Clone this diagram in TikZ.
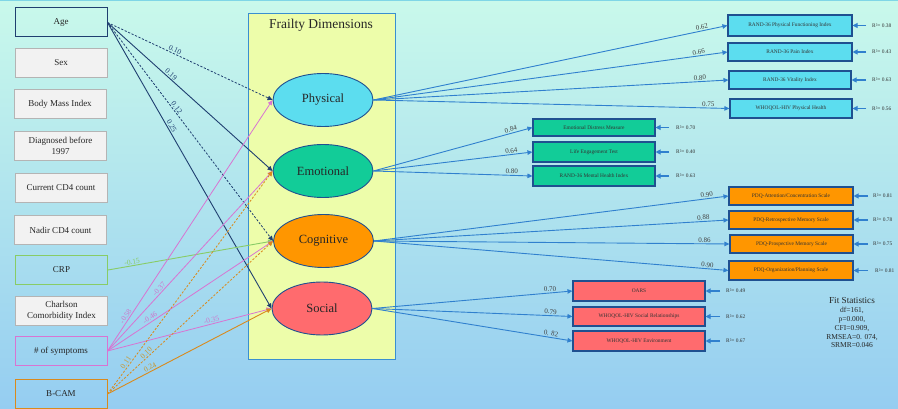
\documentclass[tikz,border=0pt]{standalone}
\usepackage{fontspec}
\setmainfont{Liberation Serif}
\usetikzlibrary{shapes.geometric,arrows.meta}
\definecolor{bgtop}{HTML}{C9F9EB}
\definecolor{bgbot}{HTML}{95CDF1}
\definecolor{topline}{HTML}{7FD6E6}
\definecolor{navy}{HTML}{1F3F70}
\definecolor{loadblue}{HTML}{3080CE}
\definecolor{pinkc}{HTML}{D874D2}
\definecolor{orangec}{HTML}{D98A1C}
\definecolor{greenc}{HTML}{88CC66}
\definecolor{frfill}{HTML}{EDFDAA}
\definecolor{frborder}{HTML}{3A8FD0}
\definecolor{ellborder}{HTML}{1F5090}
\definecolor{physc}{HTML}{5CDDEF}
\definecolor{emoc}{HTML}{12CC98}
\definecolor{cogc}{HTML}{FF9600}
\definecolor{socc}{HTML}{FF6B6E}
\definecolor{boxgray}{HTML}{B4B4B4}
\definecolor{boxfill}{HTML}{F2F2F2}
\definecolor{labgray}{HTML}{404040}
\definecolor{pinklab}{HTML}{CC77CC}
\definecolor{orangelab}{HTML}{C8962E}
\begin{document}
\begin{tikzpicture}[x=1pt,y=-1pt,
  predbox/.style={draw, line width=1pt, minimum width=92pt, minimum height=29pt, align=center, font=\fontsize{9}{10.5}\selectfont, inner sep=1pt, text=black!85},
  graybox/.style={predbox, draw=boxgray, fill=boxfill},
  latent/.style={ellipse, draw=ellborder, line width=0.9pt, minimum width=100pt, minimum height=53pt, inner sep=0pt, font=\fontsize{12.5}{14}\selectfont, text=black!85},
  ind/.style={draw=ellborder, line width=1.1pt, minimum width=124pt, minimum height=19pt, inner sep=0pt, font=\fontsize{5.4}{6}\selectfont, text=black!80},
  rsq/.style={font=\fontsize{5.4}{6}\selectfont, anchor=west, inner sep=0pt, text=black!80},
  load/.style={draw=loadblue, line width=0.9pt, -{Triangle[length=5pt,width=4.5pt]}},
  rarrow/.style={draw=loadblue, line width=1.1pt, -{Triangle[length=5pt,width=5pt]}},
  ltext/.style={font=\fontsize{7}{8}\selectfont, text=labgray, sloped, above, inner sep=1pt},
  ptext/.style={font=\fontsize{7.5}{8}\selectfont, sloped, above, inner sep=1pt},
  dsh/.style={dash pattern=on 2.2pt off 1.6pt}
]
\shade[top color=bgtop, bottom color=bgbot] (0,0) rectangle (898,409);
\useasboundingbox (0,0) rectangle (898,409);
\draw[topline, line width=1pt] (0,0.5) -- (898,0.5);

% frame
\node[draw=frborder, fill=frfill, line width=1pt, minimum width=147pt, minimum height=346pt, anchor=north west, inner sep=0pt] (frame) at (248,13) {};
\node[font=\fontsize{13.5}{15}\selectfont, text=black!85] (title) at (321,25) {Frailty Dimensions};

% predictors
\node[predbox, draw=navy] (age) at (61,22.5) {Age};
\node[graybox] (sex) at (61,63) {Sex};
\node[graybox] (bmi) at (60,104.5) {Body Mass Index};
\node[graybox] (diag) at (60.5,146) {Diagnosed before\\1997};
\node[graybox] (cur) at (61,188) {Current CD4 count};
\node[graybox] (nad) at (60.5,230) {Nadir CD4 count};
\node[predbox, draw=greenc] (crp) at (61.5,270) {CRP};
\node[graybox] (cha) at (61.5,311) {Charlson\\Comorbidity Index};
\node[predbox, draw=pinkc] (sym) at (61,351) {\# of symptoms};
\node[predbox, draw=orangec] (bcam) at (61,394) {B-CAM};

% latent
\node[latent, fill=physc] (phys) at (323,100) {Physical};
\node[latent, fill=emoc] (emo) at (323,171) {Emotional};
\node[latent, fill=cogc] (cog) at (323.5,241) {Cognitive};
\node[latent, fill=socc] (soc) at (322,308.5) {Social};

% predictor paths
\draw[navy, line width=0.8pt, dsh, -{Triangle[length=5pt,width=4.5pt]}] (age.east) -- node[ptext, text=navy, pos=0.4] {0.10} (phys.west);
\draw[navy, line width=0.9pt, -{Triangle[length=5pt,width=4.5pt]}] (age.east) -- node[ptext, text=navy, pos=0.37] {0.19} (emo.west);
\draw[navy, line width=0.8pt, dsh, -{Triangle[length=5pt,width=4.5pt]}] (age.east) -- node[ptext, text=navy, pos=0.4] {0.12} (cog.west);
\draw[navy, line width=0.9pt, -{Triangle[length=5pt,width=4.5pt]}] (age.east) -- node[ptext, text=navy, pos=0.37] {0.25} (soc.west);

\draw[greenc, line width=0.9pt, -{Triangle[length=5pt,width=4.5pt]}] (crp.east) -- node[ptext, text=greenc, pos=0.15] {-0.15} (cog.west);

\draw[pinkc, line width=0.8pt, -{Triangle[length=5pt,width=4.5pt]}] (sym.east) -- node[ptext, text=pinklab, pos=0.13] {-0.58} (phys.west);
\draw[pinkc, line width=0.8pt, -{Triangle[length=5pt,width=4.5pt]}] (sym.east) -- node[ptext, text=pinklab, pos=0.33] {-0.37} (emo.west);
\draw[pinkc, line width=0.8pt, -{Triangle[length=5pt,width=4.5pt]}] (sym.east) -- node[ptext, text=pinklab, pos=0.27] {-0.46} (cog.west);
\draw[pinkc, line width=0.8pt, -{Triangle[length=5pt,width=4.5pt]}] (sym.east) -- node[ptext, text=pinklab, pos=0.64] {-0.35} (soc.west);

\draw[orangec, line width=0.8pt, dsh, -{Triangle[length=5pt,width=4.5pt]}] (bcam.east) -- node[ptext, text=orangelab, pos=0.13] {0.11} (emo.west);
\draw[orangec, line width=0.8pt, dsh, -{Triangle[length=5pt,width=4.5pt]}] (bcam.east) -- node[ptext, text=orangelab, pos=0.25] {0.10} (cog.west);
\draw[orangec, line width=0.9pt, -{Triangle[length=5pt,width=4.5pt]}] (bcam.east) -- node[ptext, text=orangelab, pos=0.27] {0.24} (soc.west);

% indicators: physical
\node[ind, fill=physc, minimum height=21pt] (p1) at (790,25.5) {RAND-36 Physical Functioning Index};
\node[ind, fill=physc, minimum height=18pt] (p2) at (790,52) {RAND-36 Pain Index};
\node[ind, fill=physc, minimum height=18pt, minimum width=122pt] (p3) at (790,80) {RAND-36 Vitality Index};
\node[ind, fill=physc, minimum height=19pt, minimum width=122pt] (p4) at (791,108.5) {WHOQOL-HIV Physical Health};
% emotional
\node[ind, fill=emoc, minimum height=17pt, minimum width=122pt] (e1) at (594,127.5) {Emotional Distress Measure};
\node[ind, fill=emoc, minimum height=20pt, minimum width=122pt] (e2) at (594,152) {Life Engagement Test};
\node[ind, fill=emoc, minimum height=20pt, minimum width=122pt] (e3) at (594,176) {RAND-36 Mental Health Index};
% cognitive
\node[ind, fill=cogc, minimum height=18pt] (c1) at (791,196) {PDQ-Attention/Concentration Scale};
\node[ind, fill=cogc, minimum height=18pt] (c2) at (791,220) {PDQ-Retrospective Memory Scale};
\node[ind, fill=cogc, minimum height=18pt, minimum width=123pt] (c3) at (791.5,244) {PDQ-Prospective Memory Scale};
\node[ind, fill=cogc, minimum height=19pt] (c4) at (791,270.5) {PDQ-Organization/Planning Scale};
% social
\node[ind, fill=socc, minimum height=20pt, minimum width=132pt] (s1) at (639,291) {OARS};
\node[ind, fill=socc, minimum height=19pt, minimum width=132pt] (s2) at (639,316.5) {WHOQOL-HIV Social Relationships};
\node[ind, fill=socc, minimum height=20pt, minimum width=132pt] (s3) at (639,341) {WHOQOL-HIV Environment};

% loadings
\draw[load] (phys.east) -- node[ltext, pos=0.93] {0.62} (p1.west);
\draw[load] (phys.east) -- node[ltext, pos=0.92] {0.66} (p2.west);
\draw[load] (phys.east) -- node[ltext, pos=0.92] {0.80} (p3.west);
\draw[load] (phys.east) -- node[ltext, pos=0.94] {0.75} (p4.west);
\draw[load] (emo.east) -- node[ltext, pos=0.87] {0.84} (e1.west);
\draw[load] (emo.east) -- node[ltext, pos=0.87] {0.64} (e2.west);
\draw[load] (emo.east) -- node[ltext, pos=0.87] {0.80} (e3.west);
\draw[load] (cog.east) -- node[ltext, pos=0.94] {0.90} (c1.west);
\draw[load] (cog.east) -- node[ltext, pos=0.93] {0.88} (c2.west);
\draw[load] (cog.east) -- node[ltext, pos=0.93] {0.86} (c3.west);
\draw[load] (cog.east) -- node[ltext, pos=0.94] {0.90} (c4.west);
\draw[load] (soc.east) -- node[ltext, pos=0.89] {0.70} (s1.west);
\draw[load] (soc.east) -- node[ltext, pos=0.89] {0.79} (s2.west);
\draw[load] (soc.east) -- node[ltext, pos=0.89] {0. 82} (s3.west);

% R squared
\node[rsq] (rp1) at (872,25.5) {R²= 0.38};
\node[rsq] (rp2) at (872,52) {R²= 0.43};
\node[rsq] (rp3) at (872,80) {R²= 0.63};
\node[rsq] (rp4) at (872,108.5) {R²= 0.56};
\node[rsq] (re1) at (676,127.5) {R²= 0.70};
\node[rsq] (re2) at (676,152) {R²= 0.40};
\node[rsq] (re3) at (676,176) {R²= 0.63};
\node[rsq] (rc1) at (873,196) {R²= 0.81};
\node[rsq] (rc2) at (873,220) {R²= 0.78};
\node[rsq] (rc3) at (873,244) {R²= 0.75};
\node[rsq] (rc4) at (875,270.5) {R²= 0.81};
\node[rsq] (rs1) at (726,291) {R²= 0.49};
\node[rsq] (rs2) at (726,316.5) {R²= 0.62};
\node[rsq] (rs3) at (726,341) {R²= 0.67};
\coordinate (ap1) at (866,25.5);
\coordinate (ap2) at (866,52);
\coordinate (ap3) at (866,80);
\coordinate (ap4) at (866,108.5);
\coordinate (ae1) at (669,127.5);
\coordinate (ae2) at (669,152);
\coordinate (ae3) at (669,176);
\coordinate (ac1) at (868,196);
\coordinate (ac2) at (868,220);
\coordinate (ac3) at (868,244);
\coordinate (ac4) at (868,270.5);
\coordinate (as1) at (720,291);
\coordinate (as2) at (720,316.5);
\coordinate (as3) at (720,341);
\draw[rarrow] (ap1) -- (p1.east);
\draw[rarrow] (ap2) -- (p2.east);
\draw[rarrow] (ap3) -- (p3.east);
\draw[rarrow] (ap4) -- (p4.east);
\draw[rarrow] (ae1) -- (e1.east);
\draw[rarrow] (ae2) -- (e2.east);
\draw[rarrow] (ae3) -- (e3.east);
\draw[rarrow] (ac1) -- (c1.east);
\draw[rarrow] (ac2) -- (c2.east);
\draw[rarrow] (ac3) -- (c3.east);
\draw[rarrow] (ac4) -- (c4.east);
\draw[rarrow] (as1) -- (s1.east);
\draw[rarrow] (as2) -- (s2.east);
\draw[rarrow] (as3) -- (s3.east);

% fit statistics
\node[font=\fontsize{9.2}{10}\selectfont, text=black!85] (fittitle) at (852,300) {Fit Statistics};
\node[font=\fontsize{7.5}{8.7}\selectfont, align=center, anchor=north, inner sep=0pt, text=black!85] (fitvals) at (852,307.5) {df=161,\\p=0.000,\\CFI=0.909,\\RMSEA=0. 074,\\SRMR=0.046};
\end{tikzpicture}
\end{document}
